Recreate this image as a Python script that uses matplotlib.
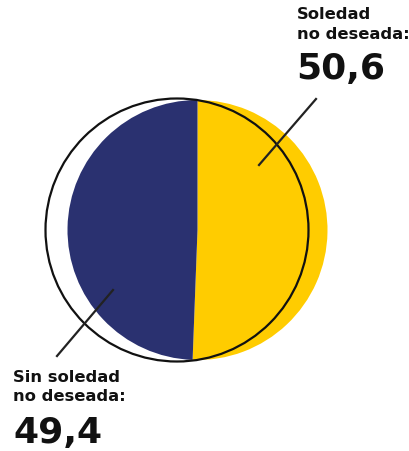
import matplotlib
matplotlib.use("Agg")
import matplotlib.pyplot as plt
from matplotlib.patches import Circle

labels = ["Soledad\nno deseada:", "Sin soledad\nno deseada:"]
values = [50.6, 49.4]
value_text = ["50,6", "49,4"]
colors = ["#FFCC00", "#2A3170"]

W, H = 409, 451
fig = plt.figure(figsize=(W / 100, H / 100), dpi=100)
ax = fig.add_axes([0, 0, 1, 1])

# pie in pixel-like coordinates (y up)
ax.pie(values, colors=colors, startangle=90, counterclock=False,
       center=(197.5, H - 230), radius=130,
       wedgeprops=dict(linewidth=0))
ax.add_patch(Circle((177, H - 230), 131.5, fill=False, edgecolor="#111111", linewidth=1.6, zorder=5))

# leader lines
ax.plot([259, 316], [H - 165, H - 99], color="#222222", linewidth=1.6, zorder=6)
ax.plot([113, 57], [H - 290, H - 356], color="#222222", linewidth=1.6, zorder=6)

font = "DejaVu Sans"
ax.text(297, H - 7, labels[0], ha="left", va="top", fontsize=11.8, fontweight="bold",
        family=font, color="#111111", linespacing=1.4)
ax.text(296, H - 52, value_text[0], ha="left", va="top", fontsize=26, fontweight="bold",
        family=font, color="#111111")
ax.text(13, H - 370, labels[1], ha="left", va="top", fontsize=11.8, fontweight="bold",
        family=font, color="#111111", linespacing=1.35)
ax.text(13, H - 416, value_text[1], ha="left", va="top", fontsize=26, fontweight="bold",
        family=font, color="#111111")

ax.set_xlim(0, W)
ax.set_ylim(0, H)
ax.set_aspect("auto")
ax.axis("off")

fig.savefig("out.png", dpi=100)
